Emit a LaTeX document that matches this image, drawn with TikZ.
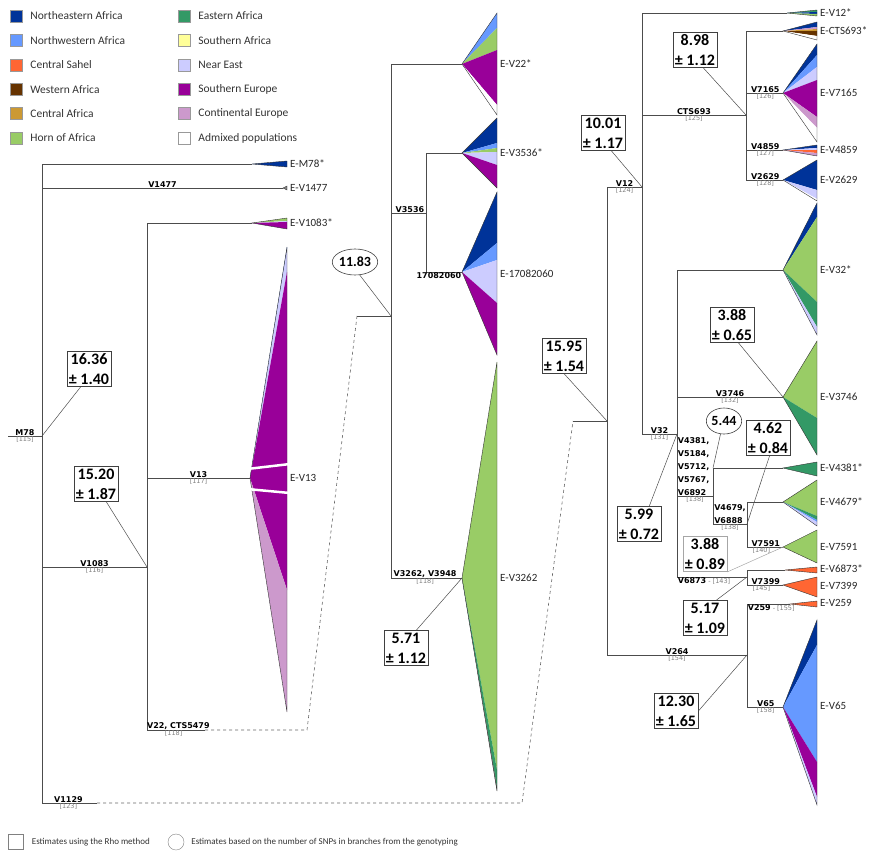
\documentclass[tikz,border=0pt]{standalone}
\usepackage{fontspec}
\setmainfont{Carlito}
\newfontfamily\labfont{DejaVu Sans}
\usepackage{xcolor}
\usepackage{tikz}
\usetikzlibrary{positioning,shapes.geometric}

\definecolor{nea}{RGB}{0,51,153}
\definecolor{nwa}{RGB}{102,153,255}
\definecolor{csa}{RGB}{255,102,51}
\definecolor{wea}{RGB}{102,51,0}
\definecolor{cea}{RGB}{204,153,51}
\definecolor{hoa}{RGB}{153,204,102}
\definecolor{eaa}{RGB}{51,153,102}
\definecolor{soa}{RGB}{255,255,153}
\definecolor{nee}{RGB}{204,204,255}
\definecolor{seu}{RGB}{153,0,153}
\definecolor{ceu}{RGB}{204,153,204}

\newcommand{\fan}[5]{\foreach \ya/\yb/\cl in {#5}{\fill[\cl] (#1) -- (#2,\ya) -- (#2,\yb) -- cycle;}
  \draw[fanline] (#2,#3) -- (#1) -- (#2,#4) -- cycle;}

\begin{document}
\begin{tikzpicture}[x=1pt,y=-1pt,
 br/.style={draw=black!70,line width=.6pt},
 dsh/.style={draw=black!60,dashed,line width=.6pt},
 est/.style={draw=black!70,line width=.5pt},
 fanline/.style={draw=black!80,line width=.4pt},
 lab/.style={font=\labfont\bfseries\fontsize{8}{13}\selectfont,inner sep=.5pt,above},
 num/.style={font=\labfont\fontsize{6.5}{7}\selectfont,text=black!50,inner sep=.5pt,below},
 tip/.style={font=\fontsize{11}{13}\selectfont,text=black!85,anchor=west,inner sep=3pt},
 rho/.style={draw=black!75,line width=.6pt,font=\bfseries\fontsize{16}{20}\selectfont,align=center,inner xsep=2pt,inner ysep=2pt},
 snp/.style={ellipse,draw=black!75,line width=.6pt,font=\bfseries\fontsize{14}{16}\selectfont,inner sep=0pt,minimum height=26pt},
 key/.style={draw=black!40,minimum size=12pt,inner sep=0pt},
 keytxt/.style={anchor=west,font=\fontsize{11.5}{13}\selectfont,text=black!80,inner sep=0pt}]
\useasboundingbox (0,0) rectangle (875,852);

\foreach \cl/\txt [count=\i] in {nea/Northeastern Africa,nwa/Northwestern Africa,csa/Central Sahel,wea/Western Africa,cea/Central Africa,hoa/Horn of Africa}
 {\node[key,fill=\cl] (ka\i) at (16,{16+24.4*(\i-1)}) {}; \node[keytxt,right=8pt of ka\i] (ta\i) {\txt};}
\foreach \cl/\txt [count=\i] in {eaa/Eastern Africa,soa/Southern Africa,nee/Near East,seu/Southern Europe,ceu/Continental Europe,white/Admixed populations}
 {\node[key,fill=\cl] (kb\i) at (184,{16+24.4*(\i-1)}) {}; \node[keytxt,right=8pt of kb\i] (tb\i) {\txt};}

\coordinate (root) at (8,436); \coordinate (m78) at (42,436);
\coordinate (em78) at (252,164); \coordinate (ev1477) at (283,188);
\coordinate (v1083) at (147,567); \coordinate (ev1083) at (252,223);
\coordinate (ev13) at (250,478);
\coordinate (v22a) at (205,730); \coordinate (v22b) at (307,730); \coordinate (v22c) at (357,316);
\coordinate (v1129a) at (97,803); \coordinate (v1129b) at (522,803); \coordinate (v1129c) at (573,421);
\coordinate (v22) at (391,316); \coordinate (ev22) at (462,64);
\coordinate (v3536) at (426,213); \coordinate (ev3536) at (462,153); \coordinate (e1708) at (462,272);
\coordinate (ev3262) at (462,578);
\coordinate (v1129) at (607,421); \coordinate (v12) at (642,187); \coordinate (ev12) at (787,13);
\coordinate (cts693) at (746,115); \coordinate (ects693) at (783,31); \coordinate (ev7165) at (783,93);
\coordinate (ev4859) at (783,150); \coordinate (ev2629) at (783,180);
\coordinate (v32) at (677,434); \coordinate (ev32) at (783,270); \coordinate (ev3746) at (783,397);
\coordinate (v4381) at (713,496); \coordinate (ev4381) at (783,468);
\coordinate (v4679) at (747,524); \coordinate (ev4679) at (783,502); \coordinate (ev7591) at (783,547);
\coordinate (v6873) at (747,577); \coordinate (ev6873) at (785,570); \coordinate (ev7399) at (783,585);
\coordinate (v264) at (747,655); \coordinate (ev259) at (790,604); \coordinate (ev65) at (783,707);

\fan{em78}{287}{161}{167}{161/167/nea}
\fan{ev1477}{287}{186}{190}{186/190/black!50}
\fan{ev1083}{287}{218}{229}{218/221/hoa,221/222/nee,222/229/seu}
\fan{ev13}{287}{247}{712}{247/249/nea,249/272/nee,272/590/seu,590/712/ceu}
\fan{ev22}{497}{13}{115}{13/28/nwa,28/50/hoa,50/105/seu,105/115/white}
\fan{ev3536}{497}{118}{188}{118/143/nea,143/148/nwa,148/152/hoa,152/165/nee,165/188/seu}
\fan{e1708}{497}{192}{355}{192/243/nea,243/260/nwa,260/303/nee,303/355/seu}
\fan{ev3262}{497}{362}{791}{362/770/hoa,770/788/eaa,788/791/black!70}
\fan{ev12}{817}{10}{16}{10/12/eaa,12/14/nea,14/16/hoa}
\fan{ects693}{817}{22}{40}{22/27/nea,27/29/ceu,29/31/cea,31/36/wea,36/40/white}
\fan{ev7165}{817}{44}{142}{44/55/nea,55/67/nwa,67/80/nee,80/117/seu,117/128/ceu,128/142/white}
\fan{ev4859}{817}{145}{156}{145/148/nea,148/150/nee,150/153/csa,153/156/ceu}
\fan{ev2629}{817}{160}{201}{160/190/nea,190/199/nee,199/201/white}
\fan{ev32}{817}{203}{335}{203/217/nea,217/302/hoa,302/327/eaa,327/335/nee}
\fan{ev3746}{817}{341}{455}{341/418/hoa,418/455/eaa}
\fan{ev4381}{817}{462}{476}{462/476/eaa}
\fan{ev4679}{817}{480}{526}{480/516/hoa,516/520/eaa,520/522/nwa,522/526/nee}
\fan{ev7591}{817}{530}{563}{530/563/hoa}
\fan{ev6873}{817}{567}{573}{567/573/csa}
\fan{ev7399}{817}{577}{597}{577/597/csa}
\fan{ev259}{817}{601}{607}{601/607/csa}
\fan{ev65}{817}{620}{805}{620/645/nea,645/762/nwa,762/797/seu,797/805/nee}
\draw[white,line width=2.5pt] (247,469) -- (290,464) (247,489) -- (290,493);

\foreach \x/\y/\txt [count=\i] in {287/164/E-M78*,287/188/E-V1477,287/223/E-V1083*,287/478/E-V13,497/64/E-V22*,497/153/E-V3536*,497/274/E-17082060,497/578/E-V3262,817/13/E-V12*,817/31/E-CTS693*,817/93/E-V7165,817/150/E-V4859,817/180/E-V2629,817/270/E-V32*,817/397/E-V3746,817/468/E-V4381*,817/502/E-V4679*,817/547/E-V7591,817/569/E-V6873*,817/586/E-V7399,817/603/E-V259,817/706/E-V65}
 \node[tip] (tip\i) at (\x,\y) {\txt};

\draw[br] (root) -- node[lab]{M78} node[num]{[115]} (m78);
\draw[br] (m78) |- (em78);
\draw[br] (m78) |- node[lab,pos=.75]{V1477} (ev1477);
\draw[br] (m78) |- node[lab,pos=.75]{V1083} node[num,pos=.75]{[116]} (v1083);
\draw[br] (m78) |- node[lab,pos=.74]{V1129} node[num,pos=.74]{[123]} (v1129a);
\draw[dsh] (v1129a) -- (v1129b) -- (v1129c);
\draw[br] (v1129c) -- (v1129);
\draw[br] (v1083) |- (ev1083);
\draw[br] (v1083) |- node[lab,pos=.75]{V13} node[num,pos=.75]{[117]} (ev13);
\draw[br] (v1083) |- node[lab,pos=.77]{V22, CTS5479} node[num,pos=.73]{[118]} (v22a);
\draw[dsh] (v22a) -- (v22b) -- (v22c);
\draw[br] (v22c) -- (v22);

\draw[br] (v22) |- (ev22);
\draw[br] (v22) |- node[lab,pos=.77]{V3536} (v3536);
\draw[br] (v3536) |- (ev3536);
\draw[br] (v3536) |- node[lab,pos=1,anchor=north east]{17082060} (e1708);
\draw[br] (v22) |- node[lab,pos=.74]{V3262, V3948} node[num,pos=.74]{[118]} (ev3262);

\draw[br] (v1129) |- node[lab,pos=.75]{V12} node[num,pos=.75]{[124]} (v12);
\draw[br] (v1129) |- node[lab,pos=.75]{V264} node[num,pos=.75]{[154]} (v264);
\draw[br] (v12) |- (ev12);
\draw[br] (v12) |- node[lab,pos=.75]{CTS693} node[num,pos=.75]{[125]} (cts693);
\draw[br] (v12) |- node[lab,pos=.75]{V32} node[num,pos=.75]{[131]} (v32);
\draw[br] (cts693) |- (ects693);
\draw[br] (cts693) |- node[lab,pos=.76]{V7165} node[num,pos=.76]{[126]} (ev7165);
\draw[br] (cts693) |- node[lab,pos=.76]{V4859} node[num,pos=.76]{[127]} (ev4859);
\draw[br] (cts693) |- node[lab,pos=.76]{V2629} node[num,pos=.76]{[128]} (ev2629);
\draw[br] (v32) |- (ev32);
\draw[br] (v32) |- node[lab,pos=.75]{V3746} node[num,pos=.75]{[132]} (ev3746);
\draw[br] (v32) |- node[lab,pos=.5,anchor=south west,align=left]{V4381,\\V5184,\\V5712,\\V5767,\\V6892} node[num,pos=.75]{[138]} (v4381);
\draw[br] (v4381) |- (ev4381);
\draw[br] (v4381) |- node[lab,pos=.75,align=left]{V4679,\\V6888} node[num,pos=.75]{[138]} (v4679);
\draw[br] (v4679) |- (ev4679);
\draw[br] (v4679) |- node[lab,pos=.76]{V7591} node[num,pos=.7]{[140]} (ev7591);
\draw[br] (v32) |- node[lab,pos=.5,anchor=north west]{V6873\textcolor{black!50}{\mdseries\fontsize{6.5}{7}\selectfont{} - [143]}} (v6873);
\draw[br] (v6873) |- (ev6873);
\draw[br] (v6873) |- node[lab,pos=.76]{V7399} node[num,pos=.7]{[145]} (ev7399);
\draw[br] (v264) |- node[lab,pos=.5,anchor=north west]{V259\textcolor{black!50}{\mdseries\fontsize{6.5}{7}\selectfont{} - [155]}} (ev259);
\draw[br] (v264) |- node[lab,pos=.76]{V65} node[num,pos=.76]{[158]} (ev65);

\node[rho] (r1636) at (89,369) {16.36\\± 1.40};
\node[rho] (r1520) at (96,484) {15.20\\± 1.87};
\node[rho] (r571) at (406,648) {5.71\\± 1.12};
\node[rho] (r1595) at (564,356) {15.95\\± 1.54};
\node[rho] (r1001) at (603,133) {10.01\\± 1.17};
\node[rho] (r898) at (695,50) {8.98\\± 1.12};
\node[rho] (r388a) at (732,325) {3.88\\± 0.65};
\node[rho] (r462) at (768,438) {4.62\\± 0.84};
\node[rho] (r599) at (639,524) {5.99\\± 0.72};
\node[rho,draw=black!35] (r388b) at (705,554) {3.88\\± 0.89};
\node[rho] (r517) at (705,618) {5.17\\± 1.09};
\node[rho] (r1230) at (676,711) {12.30\\± 1.65};
\node[snp] (e1183) at (355,262) {11.83};
\node[snp] (e544) at (724,421) {5.44};
\draw[est] (r1636.-115) -- (m78);
\draw[est] (r1520.-60) -- (v1083);
\draw[est] (e1183.-70) -- (v22);
\draw[est] (r571.60) -- (ev3262);
\draw[est] (r1595.south) -- (v1129);
\draw[est] (r1001.-65) -- (v12);
\draw[est] (r898.-65) -- (cts693);
\draw[est] (r388a.-70) -- (ev3746);
\draw[est] (e544.-105) -- (v4381 |- ev4381);
\draw[est] (r462.-85) -- (v4679);
\draw[est] (r599.60) -- (v32);
\draw[est,draw=black!35] (r388b.south east) -- (ev7591);
\draw[est] (r517.58) -- (v6873);
\draw[est] (r1230.east) -- (v264);

\node[key,minimum size=15pt,draw=black!50] (kr) at (16,842) {};
\node[keytxt,font=\fontsize{9}{11}\selectfont,right=8pt of kr] (tr) {Estimates using the Rho method};
\node[circle,draw=black!50,minimum size=16pt,inner sep=0pt] (kc) at (176,842) {};
\node[keytxt,font=\fontsize{9}{11}\selectfont,right=7pt of kc] (tc) {Estimates based on the number of SNPs in branches from the genotyping};
\end{tikzpicture}
\end{document}
